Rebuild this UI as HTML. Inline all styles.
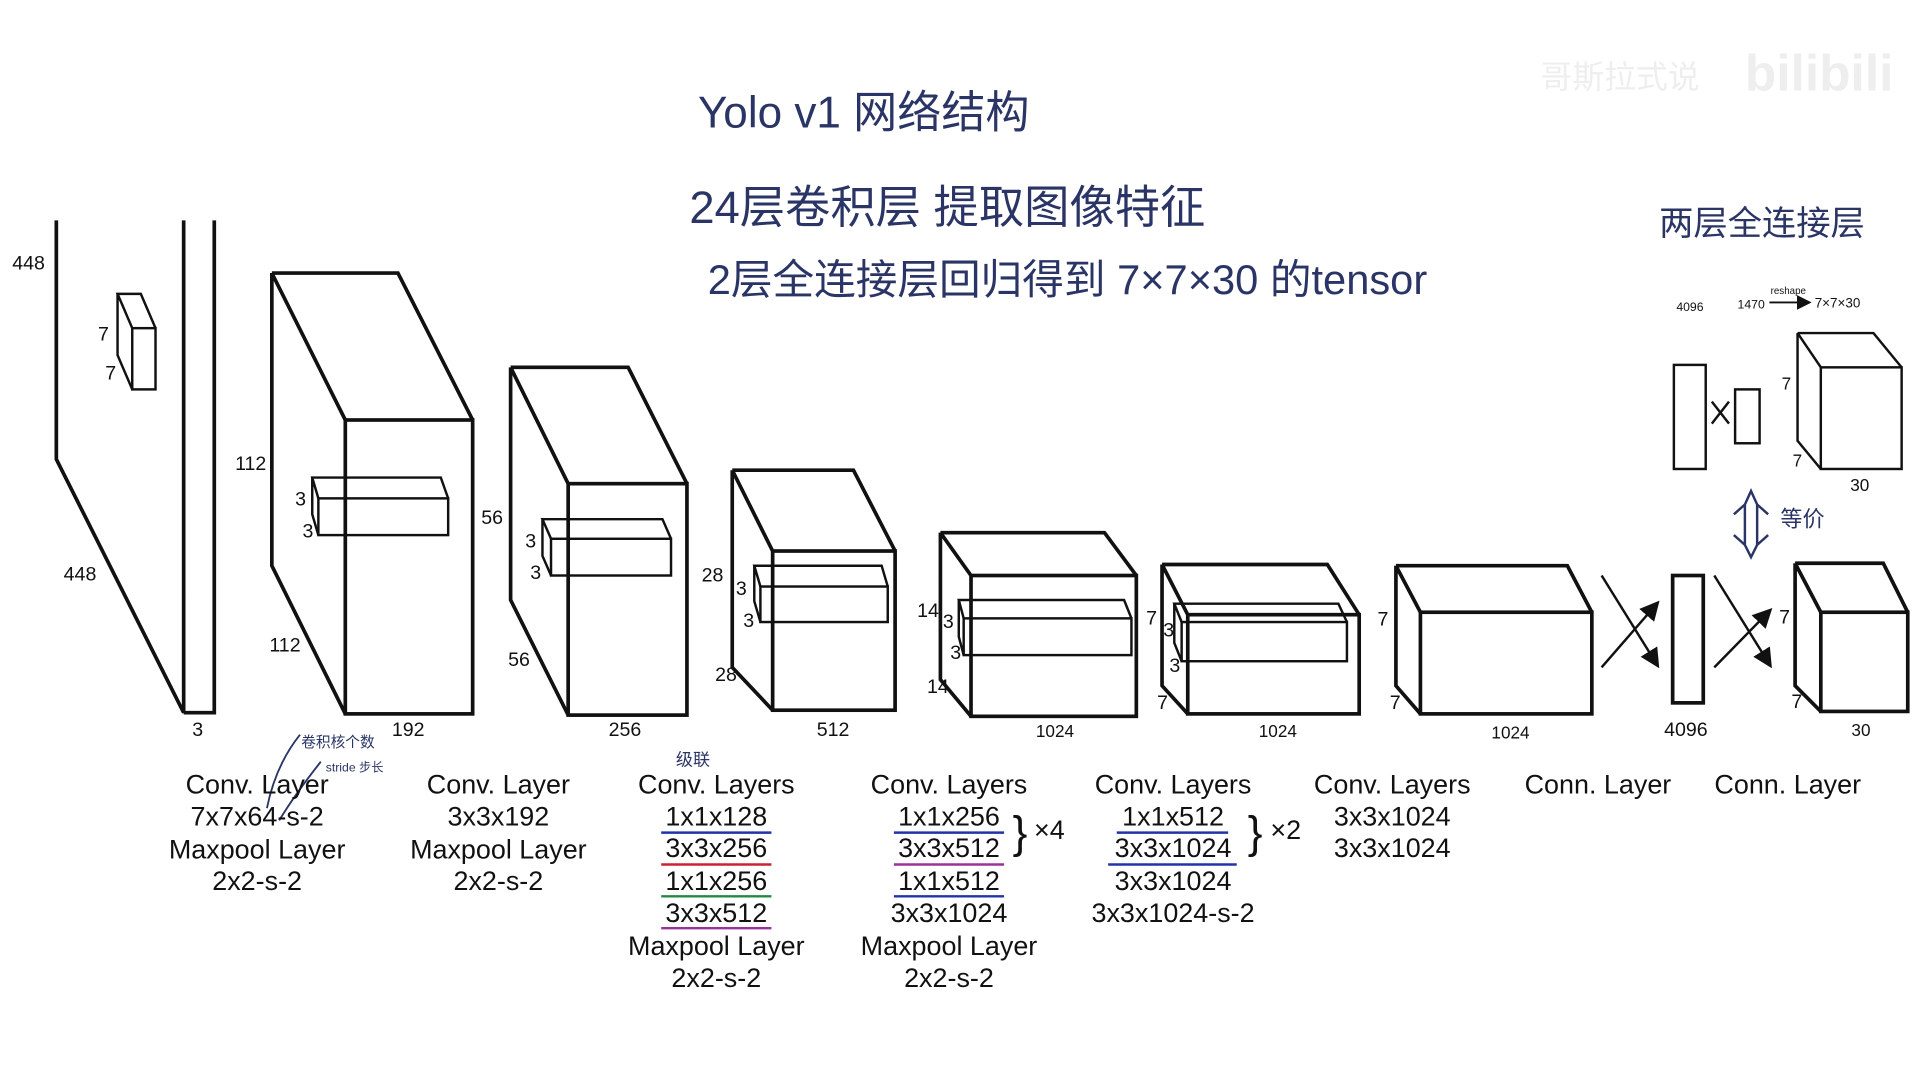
<!DOCTYPE html>
<html><head><meta charset="utf-8"><style>
html,body{margin:0;padding:0;background:#fff;width:1920px;height:1080px;overflow:hidden}
svg{display:block}
.t{font-family:"Liberation Sans","Noto Sans CJK SC",sans-serif;fill:#111}
.n{font-size:16px}
.l{font-size:22px;text-anchor:middle}
.h{font-family:"Liberation Sans","Noto Sans CJK SC",sans-serif;fill:#2a3566}
</style></head><body>
<svg width="1920" height="1080" viewBox="0 0 1568 882" preserveAspectRatio="none" xmlns="http://www.w3.org/2000/svg">
<defs><marker id="a" markerWidth="8" markerHeight="8" refX="7" refY="4" orient="auto"><path d="M0,0 L8,4 L0,8 z" fill="#111"/></marker></defs>
<g fill="none" stroke="#111" stroke-width="3" stroke-linejoin="miter">
<path d="M46,180 V375 L150,582 V180 M175,180 V582 H150"/>
<g stroke-width="2"><rect x="108" y="268" width="19" height="50"/><path d="M108,268 L96,240 H115 L127,268 M96,240 V290 L108,318"/></g>
<path d="M222,223 H325 L386,343 M222,223 L282,343 M222,223 V462 L282,583"/><rect x="282" y="343" width="104" height="240"/>
<g stroke-width="2"><rect x="260" y="407" width="106" height="30"/><path d="M260,407 L255,390 H360 L366,407 M255,390 V420 L260,437"/></g>
<path d="M417,300 H513 L561,395 M417,300 L464,395 M417,300 V490 L464,584"/><rect x="464" y="395" width="97" height="189"/>
<g stroke-width="2"><rect x="450" y="440" width="98" height="30"/><path d="M450,440 L443,424 H541 L548,440 M443,424 V454 L450,470"/></g>
<path d="M598,384 H697 L731,450 M598,384 L631,450 M598,384 V545 L631,580"/><rect x="631" y="450" width="100" height="130"/>
<g stroke-width="2"><rect x="621" y="479" width="104" height="29"/><path d="M621,479 L616,462 H720 L725,479 M616,462 V491 L621,508"/></g>
<path d="M768,435 H902 L928,470 M768,435 L793,470 M768,435 V555 L793,585"/><rect x="793" y="470" width="135" height="115"/>
<g stroke-width="2"><rect x="787" y="505" width="137" height="30"/><path d="M787,505 L783,490 H918 L924,505 M783,490 V520 L787,535"/></g>
<path d="M949,461 H1084 L1110,502 M949,461 L970,502 M949,461 V560 L970,583"/><rect x="970" y="502" width="140" height="81"/>
<g stroke-width="2"><rect x="965" y="508" width="135" height="32"/><path d="M965,508 L959,493 H1093 L1100,508 M959,493 V525 L965,540"/></g>
<path d="M1140,462 H1280 L1300,500 M1140,462 L1160,500 M1140,462 V560 L1160,583"/><rect x="1160" y="500" width="140" height="83"/>
<rect x="1366" y="470" width="25" height="104"/>
<rect x="1487" y="500" width="71" height="81"/><path d="M1466,460 H1538 L1558,500 M1466,460 L1487,500 M1466,460 V560 L1487,581"/>
<g stroke-width="2">
<path d="M1308,470 L1354,544" marker-end="url(#a)"/><path d="M1308,545 L1354,492" marker-end="url(#a)"/>
<path d="M1400,470 L1446,544" marker-end="url(#a)"/><path d="M1400,545 L1446,498" marker-end="url(#a)"/>
<rect x="1367" y="298" width="26" height="85"/><rect x="1417" y="318" width="20" height="44"/>
<path d="M1398,328 L1412,346 M1412,328 L1398,346"/>
<rect x="1487" y="300" width="66" height="83"/><path d="M1468,272 H1530 L1553,300 M1468,272 L1487,300 M1468,272 V360 L1487,383"/>
<path d="M1445,247 H1478" stroke-width="1.5" marker-end="url(#a)"/>
<path d="M1425,412 V445 L1416,437 M1435,412 V445 L1444,437 M1425,412 L1416,420 M1435,412 L1444,420 M1425,412 L1430,401 L1435,412 M1425,445 L1430,455 L1435,445" stroke="#2a3566"/>
</g>
<g stroke-width="2">
<path d="M540,680 H630" stroke="#2233aa"/><path d="M540,706 H630" stroke="#cc2233"/><path d="M540,732 H630" stroke="#228844"/><path d="M540,758 H630" stroke="#993399"/>
<path d="M730,680 H820" stroke="#2233aa"/><path d="M730,706 H820" stroke="#993399"/><path d="M730,732 H820" stroke="#2233aa"/>
<path d="M912,680 H1003" stroke="#2233aa"/><path d="M905,706 H1010" stroke="#2233aa"/>
<path d="M245,600 Q225,625 218,660" stroke="#2a3566" stroke-width="1.5"/><path d="M262,622 Q240,650 228,670" stroke="#2a3566" stroke-width="1.5"/>
</g>
</g>
<g class="t n">
<text x="10" y="220">448</text><text x="52" y="474">448</text><text x="80" y="278">7</text><text x="86" y="310">7</text><text x="157" y="601">3</text>
<text x="192" y="384">112</text><text x="220" y="532">112</text><text x="320" y="601">192</text><text x="241" y="413">3</text><text x="247" y="439">3</text>
<text x="393" y="428">56</text><text x="415" y="544">56</text><text x="497" y="601">256</text><text x="429" y="447">3</text><text x="433" y="473">3</text>
<text x="573" y="475">28</text><text x="584" y="556">28</text><text x="667" y="601">512</text><text x="601" y="486">3</text><text x="607" y="512">3</text>
<text x="749" y="504">14</text><text x="757" y="566">14</text><text x="846" y="602" font-size="14">1024</text><text x="770" y="513">3</text><text x="776" y="538">3</text>
<text x="936" y="510">7</text><text x="945" y="579">7</text><text x="1028" y="602" font-size="14">1024</text><text x="950" y="520">3</text><text x="955" y="549">3</text>
<text x="1125" y="511">7</text><text x="1135" y="579">7</text><text x="1218" y="603" font-size="14">1024</text>
<text x="1359" y="601">4096</text><text x="1453" y="509">7</text><text x="1463" y="578">7</text><text x="1512" y="601" font-size="14">30</text>
<text x="1455" y="318" font-size="14">7</text><text x="1464" y="381" font-size="14">7</text><text x="1511" y="401" font-size="14">30</text>
<text x="1369" y="254" font-size="10">4096</text><text x="1419" y="252" font-size="10">1470</text><text x="1446" y="240" font-size="8">reshape</text><text x="1482" y="251" font-size="11">7×7×30</text>
</g>
<g class="t l">
<text x="210" y="648">Conv. Layer</text><text x="210" y="674">7x7x64-s-2</text><text x="210" y="701">Maxpool Layer</text><text x="210" y="727">2x2-s-2</text>
<text x="407" y="648">Conv. Layer</text><text x="407" y="674">3x3x192</text><text x="407" y="701">Maxpool Layer</text><text x="407" y="727">2x2-s-2</text>
<text x="585" y="648">Conv. Layers</text><text x="585" y="674">1x1x128</text><text x="585" y="700">3x3x256</text><text x="585" y="727">1x1x256</text><text x="585" y="753">3x3x512</text><text x="585" y="780">Maxpool Layer</text><text x="585" y="806">2x2-s-2</text>
<text x="775" y="648">Conv. Layers</text><text x="775" y="674">1x1x256</text><text x="775" y="700">3x3x512</text><text x="775" y="727">1x1x512</text><text x="775" y="753">3x3x1024</text><text x="775" y="780">Maxpool Layer</text><text x="775" y="806">2x2-s-2</text>
<text x="958" y="648">Conv. Layers</text><text x="958" y="674">1x1x512</text><text x="958" y="700">3x3x1024</text><text x="958" y="727">3x3x1024</text><text x="958" y="753">3x3x1024-s-2</text>
<text x="1137" y="648">Conv. Layers</text><text x="1137" y="674">3x3x1024</text><text x="1137" y="700">3x3x1024</text>
<text x="1305" y="648">Conn. Layer</text><text x="1460" y="648">Conn. Layer</text>
<text x="833" y="692" font-size="36">}</text><text x="857" y="685">×4</text>
<text x="1025" y="692" font-size="36">}</text><text x="1050" y="685">×2</text>
</g>
<g class="h">
<text x="570" y="104" font-size="36">Yolo v1 网络结构</text>
<text x="563" y="182" font-size="37">24层卷积层 提取图像特征</text>
<text x="578" y="240" font-size="34">2层全连接层回归得到 7×7×30 的tensor</text>
<text x="1355" y="192" font-size="28">两层全连接层</text>
<text x="1454" y="430" font-size="18">等价</text>
<text x="246" y="610" font-size="12">卷积核个数</text>
<text x="266" y="630" font-size="10">stride 步长</text>
<text x="552" y="625" font-size="14">级联</text>
</g>
<text x="1258" y="72" font-family="Liberation Sans, Noto Sans CJK SC, sans-serif" font-size="26" fill="#eeeeee">哥斯拉式说</text>
<text x="1425" y="74" font-family="Liberation Sans, sans-serif" font-size="42" font-weight="bold" fill="#eeeeee">bilibili</text>
</svg>
</body></html>
